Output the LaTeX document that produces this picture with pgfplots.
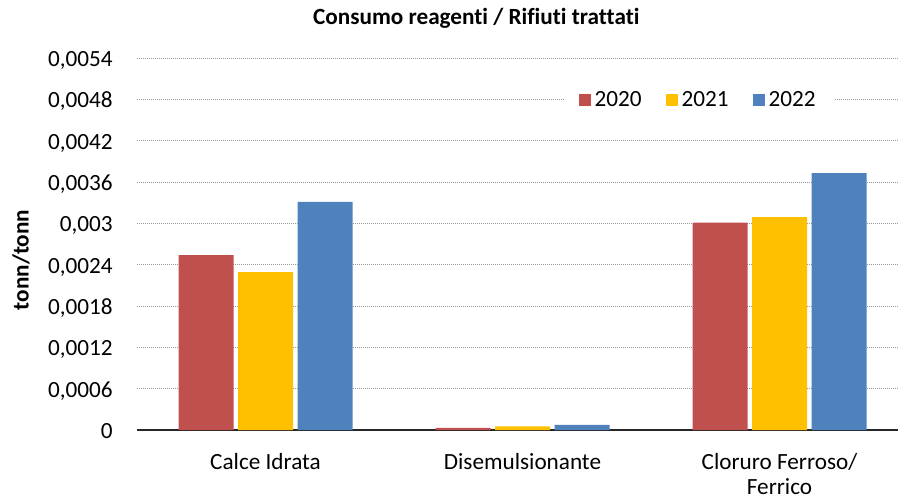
\documentclass[border=0pt]{standalone}
\usepackage{pgfplots}
\pgfplotsset{compat=1.18}
\usepackage{fontspec}
\setmainfont{Carlito}[Ligatures=NoCommon]
\definecolor{c20}{HTML}{C0504D}
\definecolor{c21}{HTML}{FFC000}
\definecolor{c22}{HTML}{4F81BD}
\newcommand{\fs}{\fontsize{11.6}{12.3}\selectfont}
\begin{document}
\begin{tikzpicture}
\useasboundingbox (0,0) rectangle (449pt,249pt);
\begin{axis}[
  at={(68.5pt,34pt)}, anchor=south west,
  scale only axis, width=385.5pt, height=186pt,
  xmin=-0.5, xmax=2.5, ymin=0, ymax=0.0054,
  ybar=2.25pt, bar width=27.5pt,
  xtick={0,1,2},
  xticklabels={Calce Idrata, Disemulsionante, {Cloruro Ferroso/\\Ferrico}},
  xticklabel style={font=\fs, align=center, anchor=north, inner sep=0pt, yshift=-11.5pt},
  ytick={0,0.0006,0.0012,0.0018,0.0024,0.003,0.0036,0.0042,0.0048,0.0054},
  yticklabels={0,{0,0006},{0,0012},{0,0018},{0,0024},{0,003},{0,0036},{0,0042},{0,0048},{0,0054}},
  yticklabel style={font=\fs, anchor=base east, inner sep=0pt, xshift=-12pt, yshift=-4.3pt},
  scaled y ticks=false,
  major tick length=0pt,
  tick style={draw=none},
  axis x line*=bottom, axis y line*=left,
  x axis line style={black!85, line width=0.8pt, -},
  y axis line style={draw=none},
  ymajorgrids,
  major grid style={gray!80, dash pattern=on 0.5pt off 0.5pt, line width=0.5pt},
  title={\textbf{Consumo reagenti / Rifiuti trattati}},
  title style={font=\fs, at={(rel axis cs:0.44,1.059)}, anchor=base, inner sep=0pt},
  ylabel={\textbf{tonn/tonn}},
  ylabel style={font=\fs, at={(rel axis cs:-0.1505,0.457)}, anchor=center, inner sep=0pt, rotate=0},
  legend columns=3,
  legend style={at={(rel axis cs:0.729,0.887)}, anchor=center, draw=none, fill=white,
    font=\fs, inner xsep=7pt, inner ysep=3pt,
    /tikz/every even column/.append style={column sep=10pt}},
  legend image code/.code={\fill[#1] (0pt,-3pt) rectangle (6pt,3pt);},
  legend cell align=left,
]
\addplot[fill=c20, draw=none] coordinates {(0,0.00254) (1,0.00003) (2,0.00301)};
\addplot[fill=c21, draw=none] coordinates {(0,0.00229) (1,0.000054) (2,0.00309)};
\addplot[fill=c22, draw=none] coordinates {(0,0.00331) (1,0.000073) (2,0.00373)};
\legend{2020,2021,2022}
\end{axis}
\end{tikzpicture}
\end{document}
